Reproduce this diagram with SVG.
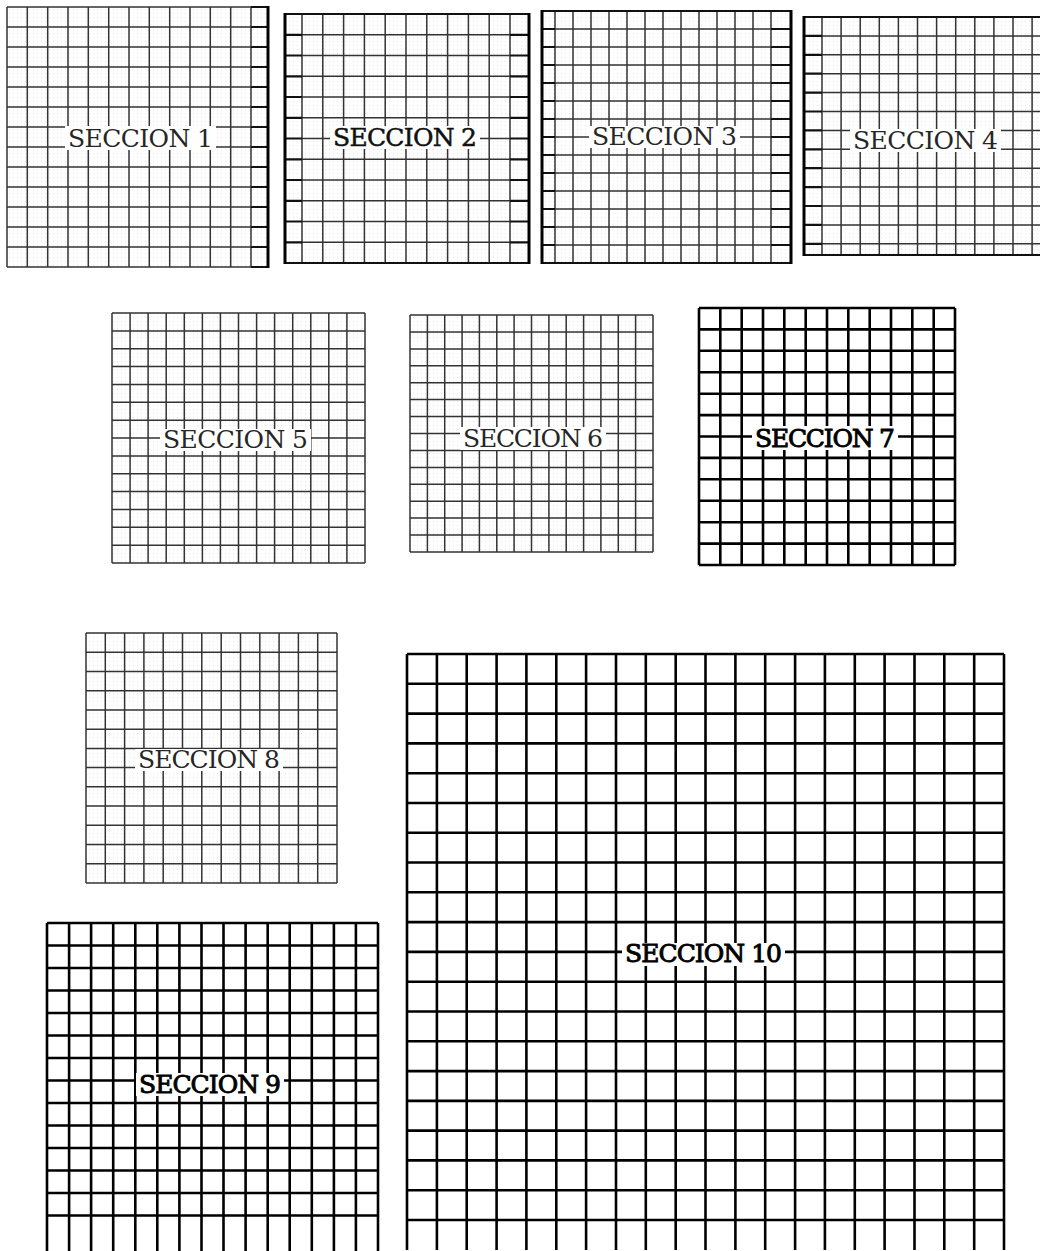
<svg xmlns="http://www.w3.org/2000/svg" width="1040" height="1251" viewBox="0 0 1040 1251">
<style>
.g{stroke:#333;stroke-width:1.5;fill:none}
.b{stroke:#111;stroke-width:2.2;fill:none}
.h{stroke:#000;stroke-width:3;fill:none}
.k{stroke:#000;stroke-width:2.6;fill:none}
.bg{fill:#fff}
.tx{fill:url(#dots)}
.t{font-family:"DejaVu Serif","Liberation Serif",serif;font-size:25px;fill:#262626}
.tm{fill:#111;stroke:#111;stroke-width:0.5}
.tb{fill:#000;stroke:#000;stroke-width:0.9}
</style>
<defs>
<pattern id="dots" width="4" height="4" patternUnits="userSpaceOnUse">
<rect x="1" y="1" width="1" height="1" fill="#e6e6e6"/>
</pattern>
</defs>
<rect width="1040" height="1251" fill="#fff"/>

<g id="seccion-1">
<rect class="tx" x="7" y="7" width="261" height="260"/>
<path class="g" d="M7 7H251M7 27H251M7 47H251M7 67H251M7 87H251M7 107H251M7 127H251M7 147H251M7 167H251M7 187H251M7 207H251M7 227H251M7 247H251M7 267H251M7 7V267M27.3 7V267M47.7 7V267M68 7V267M88.3 7V267M108.7 7V267M129 7V267M149.3 7V267M169.7 7V267M190 7V267M210.3 7V267M230.7 7V267M251 7V267"/>
<path class="b" d="M251 7H268M251 27H268M251 47H268M251 67H268M251 87H268M251 107H268M251 127H268M251 147H268M251 167H268M251 187H268M251 207H268M251 227H268M251 247H268M251 267H268"/>
<path class="h" d="M268 6V268"/>
<rect class="bg" x="65" y="126" width="151" height="24"/>
<text class="t" x="68" y="147" textLength="145">SECCION 1</text>
</g>

<g id="seccion-2">
<rect class="tx" x="285" y="14" width="244" height="249"/>
<path class="g" d="M302 34.8H510M302 55.5H510M302 76.3H510M302 97H510M302 117.8H510M302 138.5H510M302 159.3H510M302 180H510M302 200.8H510M302 221.5H510M302 242.3H510M302 14V263M322.8 14V263M343.6 14V263M364.4 14V263M385.2 14V263M406 14V263M426.8 14V263M447.6 14V263M468.4 14V263M489.2 14V263M510 14V263"/>
<path class="b" d="M285 14H529M285 263H529M285 34.8H302M285 55.5H302M285 76.3H302M285 97H302M285 117.8H302M285 138.5H302M285 159.3H302M285 180H302M285 200.8H302M285 221.5H302M285 242.3H302M510 34.8H529M510 55.5H529M510 76.3H529M510 97H529M510 117.8H529M510 138.5H529M510 159.3H529M510 180H529M510 200.8H529M510 221.5H529M510 242.3H529"/>
<path class="h" d="M285 13V264M529 13V264"/>
<rect class="bg" x="330" y="126" width="150" height="23"/>
<text class="t tm" x="333" y="146" textLength="144">SECCION 2</text>
</g>

<g id="seccion-3">
<rect class="tx" x="542" y="11" width="249" height="252"/>
<path class="g" d="M555 29H771M555 47H771M555 65H771M555 83H771M555 101H771M555 119H771M555 137H771M555 155H771M555 173H771M555 191H771M555 209H771M555 227H771M555 245H771M555 11V263M573 11V263M591 11V263M609 11V263M627 11V263M645 11V263M663 11V263M681 11V263M699 11V263M717 11V263M735 11V263M753 11V263M771 11V263"/>
<path class="b" d="M542 11H791M542 263H791M542 29H555M542 47H555M542 65H555M542 83H555M542 101H555M542 119H555M542 137H555M542 155H555M542 173H555M542 191H555M542 209H555M542 227H555M542 245H555M771 29H791M771 47H791M771 65H791M771 83H791M771 101H791M771 119H791M771 137H791M771 155H791M771 173H791M771 191H791M771 209H791M771 227H791M771 245H791"/>
<path class="h" d="M542 10V264M791 10V264"/>
<rect class="bg" x="589" y="126" width="151" height="22"/>
<text class="t" x="592" y="145" textLength="145">SECCION 3</text>
</g>

<g id="seccion-4">
<rect class="tx" x="804" y="17" width="236" height="238"/>
<path class="g" d="M822 35.9H1040M822 54.8H1040M822 73.7H1040M822 92.6H1040M822 111.5H1040M822 130.4H1040M822 149.3H1040M822 168.2H1040M822 187.1H1040M822 206H1040M822 224.9H1040M822 243.8H1040M822 17V255M841.1 17V255M860.2 17V255M879.3 17V255M898.4 17V255M917.5 17V255M936.6 17V255M955.7 17V255M974.8 17V255M993.9 17V255M1013 17V255M1032.1 17V255"/>
<path class="b" d="M804 17H1040M804 255H1040M804 35.9H822M804 54.8H822M804 73.7H822M804 92.6H822M804 111.5H822M804 130.4H822M804 149.3H822M804 168.2H822M804 187.1H822M804 206H822M804 224.9H822M804 243.8H822"/>
<path class="h" d="M804 16V256"/>
<rect class="bg" x="850" y="129" width="151" height="23"/>
<text class="t" x="853" y="149" textLength="145">SECCION 4</text>
</g>

<g id="seccion-5">
<rect class="tx" x="112" y="313" width="253" height="250"/>
<path class="g" d="M112 313H365M112 330.9H365M112 348.7H365M112 366.6H365M112 384.4H365M112 402.3H365M112 420.2H365M112 438H365M112 455.9H365M112 473.7H365M112 491.6H365M112 509.5H365M112 527.3H365M112 545.2H365M112 563H365M112 313V563M130.1 313V563M148.1 313V563M166.2 313V563M184.3 313V563M202.4 313V563M220.4 313V563M238.5 313V563M256.6 313V563M274.6 313V563M292.7 313V563M310.8 313V563M328.8 313V563M346.9 313V563M365 313V563"/>
<rect class="bg" x="160" y="429" width="151" height="22"/>
<text class="t" x="163" y="448" textLength="145">SECCION 5</text>
</g>

<g id="seccion-6">
<rect class="tx" x="410" y="315" width="243" height="237"/>
<path class="g" d="M410 315H653M410 331.9H653M410 348.9H653M410 365.8H653M410 382.7H653M410 399.6H653M410 416.6H653M410 433.5H653M410 450.4H653M410 467.4H653M410 484.3H653M410 501.2H653M410 518.1H653M410 535.1H653M410 552H653M410 315V552M427.4 315V552M444.7 315V552M462.1 315V552M479.4 315V552M496.8 315V552M514.1 315V552M531.5 315V552M548.9 315V552M566.2 315V552M583.6 315V552M600.9 315V552M618.3 315V552M635.6 315V552M653 315V552"/>
<rect class="bg" x="460" y="427" width="146" height="23"/>
<text class="t" x="463" y="447" textLength="140">SECCION 6</text>
</g>

<g id="seccion-7">
<path class="k" d="M699 308H955M699 329.4H955M699 350.8H955M699 372.3H955M699 393.7H955M699 415.1H955M699 436.5H955M699 457.9H955M699 479.3H955M699 500.8H955M699 522.2H955M699 543.6H955M699 565H955M699 308V565M720.3 308V565M741.7 308V565M763 308V565M784.3 308V565M805.7 308V565M827 308V565M848.3 308V565M869.7 308V565M891 308V565M912.3 308V565M933.7 308V565M955 308V565"/>
<rect class="bg" x="752" y="426" width="146" height="24"/>
<text class="t tb" x="755" y="447" textLength="140">SECCION 7</text>
</g>

<g id="seccion-8">
<rect class="tx" x="86" y="633" width="251" height="250"/>
<path class="g" d="M86 633H337M86 652.2H337M86 671.5H337M86 690.7H337M86 709.9H337M86 729.2H337M86 748.4H337M86 767.6H337M86 786.8H337M86 806.1H337M86 825.3H337M86 844.5H337M86 863.8H337M86 883H337M86 633V883M105.3 633V883M124.6 633V883M143.9 633V883M163.2 633V883M182.5 633V883M201.8 633V883M221.2 633V883M240.5 633V883M259.8 633V883M279.1 633V883M298.4 633V883M317.7 633V883M337 633V883"/>
<rect class="bg" x="135" y="749" width="148" height="22"/>
<text class="t" x="138" y="768" textLength="142">SECCION 8</text>
</g>

<g id="seccion-9">
<path class="k" d="M47 923H378M47 945.5H378M47 968H378M47 990.5H378M47 1013H378M47 1035.5H378M47 1058H378M47 1080.5H378M47 1103H378M47 1125.5H378M47 1148H378M47 1170.5H378M47 1193H378M47 1215.5H378M47 923V1251M69.1 923V1251M91.1 923V1251M113.2 923V1251M135.3 923V1251M157.3 923V1251M179.4 923V1251M201.5 923V1251M223.5 923V1251M245.6 923V1251M267.7 923V1251M289.7 923V1251M311.8 923V1251M333.9 923V1251M355.9 923V1251M378 923V1251"/>
<rect class="bg" x="136" y="1073" width="148" height="23"/>
<text class="t tb" x="139" y="1093" textLength="142">SECCION 9</text>
</g>

<g id="seccion-10">
<path class="k" d="M407 654H1004M407 683.8H1004M407 713.6H1004M407 743.4H1004M407 773.2H1004M407 803H1004M407 832.7H1004M407 862.5H1004M407 892.3H1004M407 922.1H1004M407 951.9H1004M407 981.7H1004M407 1011.5H1004M407 1041.3H1004M407 1071.1H1004M407 1100.9H1004M407 1130.6H1004M407 1160.4H1004M407 1190.2H1004M407 1220H1004M407 654V1250M436.9 654V1250M466.7 654V1250M496.6 654V1250M526.4 654V1250M556.3 654V1250M586.1 654V1250M616 654V1250M645.8 654V1250M675.7 654V1250M705.5 654V1250M735.4 654V1250M765.2 654V1250M795.1 654V1250M824.9 654V1250M854.8 654V1250M884.6 654V1250M914.5 654V1250M944.3 654V1250M974.2 654V1250M1004 654V1250"/>
<rect class="bg" x="622" y="943" width="163" height="23"/>
<text class="t tb" x="625" y="962" textLength="157">SECCION 10</text>
</g>
</svg>
